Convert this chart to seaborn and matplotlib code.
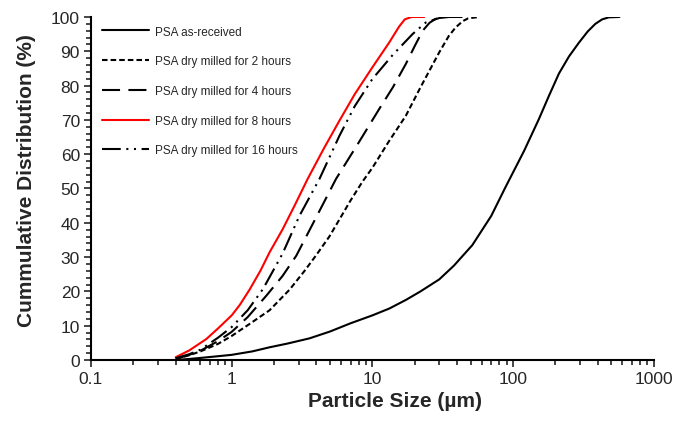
import seaborn as sns
import matplotlib.pyplot as plt
import matplotlib.ticker as mtick
import pandas as pd

# Particle size (um) and cumulative distribution (%)
x_asrec = [0.4, 0.5, 0.6, 0.8, 1.0, 1.4, 1.86, 2.5, 3.57, 5.0, 7.0, 10, 13.2, 17.3, 22, 29.9, 38, 51.4,
           70, 88.7, 120, 153, 180, 212, 250, 294, 340, 385, 430, 480, 571]
y_asrec = [0, 0.3, 0.6, 1.1, 1.5, 2.5, 3.7, 4.8, 6.3, 8.3, 10.7, 13, 15, 17.5, 20, 23.5, 27.5, 33.5,
           42, 50.5, 61, 70.3, 77, 83.5, 88.5, 92.5, 95.8, 98, 99.3, 99.9, 100]

x_2h = [0.4, 0.5, 0.6, 0.8, 1.0, 1.34, 1.86, 2.58, 3.3, 3.98, 4.95, 5.84, 7.0, 8.51, 10, 13, 17.3, 22,
        29.9, 35, 39.2, 44, 48, 57.4]
y_2h = [0.3, 1.4, 2.5, 4.7, 7, 10.5, 14.5, 20.5, 26, 30.5, 36, 41, 46.5, 52, 56, 63.5, 71.2, 79.5,
        89.7, 94.5, 97, 98.8, 99.6, 100]

x_4h = [0.4, 0.5, 0.6, 0.8, 1.0, 1.3, 1.76, 2.3, 2.88, 4.0, 5.52, 8.0, 11.2, 14, 17.3, 20, 22.8, 25.5,
        28, 32, 43.7]
y_4h = [0.3, 1.5, 2.7, 5.5, 8.2, 12.5, 18.7, 24.5, 30.4, 41.7, 52.8, 63.4, 73.2, 79.5, 86.3, 91.5, 96,
        98.3, 99.4, 100, 100]

x_8h = [0.4, 0.5, 0.66, 0.8, 1.0, 1.14, 1.34, 1.6, 1.86, 2.31, 2.8, 3.47, 4.5, 5.84, 7.5, 10, 13.2,
        14.5, 15.5, 17, 19, 23.4]
y_8h = [0.8, 2.8, 6.1, 9.2, 13, 16, 20.5, 26, 31.4, 38.2, 45, 52.8, 61.5, 69.8, 77.5, 85.3, 92.6,
        95.3, 97.2, 99.3, 100, 100]

x_16h = [0.4, 0.5, 0.6, 0.8, 1.0, 1.3, 1.67, 2.3, 3.03, 4.21, 5.84, 7.5, 10, 14, 19.3, 24, 29.9, 35]
y_16h = [0.5, 1.7, 3, 6.5, 9.6, 14.5, 20.7, 31, 42, 52.8, 65.4, 74, 81.9, 89, 95, 98.4, 99.7, 100]

labels = ["PSA as-received", "PSA dry milled for 2 hours", "PSA dry milled for 4 hours",
          "PSA dry milled for 8 hours", "PSA dry milled for 16 hours"]
xs = [x_asrec, x_2h, x_4h, x_8h, x_16h]
ys = [y_asrec, y_2h, y_4h, y_8h, y_16h]

styles = {
    labels[0]: dict(color="black", linestyle="-"),
    labels[1]: dict(color="black", linestyle=(0, (4, 2.2))),
    labels[2]: dict(color="black", linestyle=(0, (13, 6))),
    labels[3]: dict(color="red", linestyle="-"),
    labels[4]: dict(color="black", linestyle=(0, (13.5, 4, 1.5, 4, 1.5, 4))),
}

sns.set_style("white")
plt.rcParams['font.family'] = ['Liberation Sans', 'DejaVu Sans']
plt.rcParams['lines.scale_dashes'] = False

fig = plt.figure(figsize=(6.76, 4.27), dpi=100)
ax = fig.add_axes([0.1346, 0.1546, 0.8324, 0.8033])

for lab, x, y in zip(labels, xs, ys):
    df = pd.DataFrame({"size": x, "cum": y})
    sns.lineplot(data=df, x="size", y="cum", ax=ax, label=lab, linewidth=1.5, **styles[lab])

ax.set_xscale("log")
ax.set_xlim(0.1, 1000)
ax.set_ylim(0, 100)
ax.yaxis.set_major_locator(mtick.MultipleLocator(10))
ax.yaxis.set_minor_locator(mtick.MultipleLocator(2))
ax.xaxis.set_major_formatter(mtick.FuncFormatter(lambda v, _: f"{v:g}"))
ax.tick_params(axis='both', which='major', direction='out', length=5, width=1.2,
               labelsize=12.5, bottom=True, left=True, pad=3)
ax.tick_params(axis='both', which='minor', direction='out', length=3.5, width=1.2,
               bottom=True, left=True)
ax.grid(False)

for s in ['top', 'right']:
    ax.spines[s].set_visible(False)
for s in ['left', 'bottom']:
    ax.spines[s].set_color('black')
    ax.spines[s].set_linewidth(1.5)

ax.set_xlabel("Particle Size (µm)", fontsize=15, fontweight='bold')
ax.set_ylabel("Cummulative Distribution (%)", fontsize=15, fontweight='bold')
ax.xaxis.set_label_coords(0.54, -0.09)
ax.yaxis.set_label_coords(-0.098, 0.525)

ax.legend(loc='upper left', bbox_to_anchor=(0.02, 0.975), frameon=False, fontsize=8.5,
          handlelength=4.0, handletextpad=0.5, labelspacing=1.5, borderpad=0, borderaxespad=0)

fig.savefig("out.png", dpi=100)
